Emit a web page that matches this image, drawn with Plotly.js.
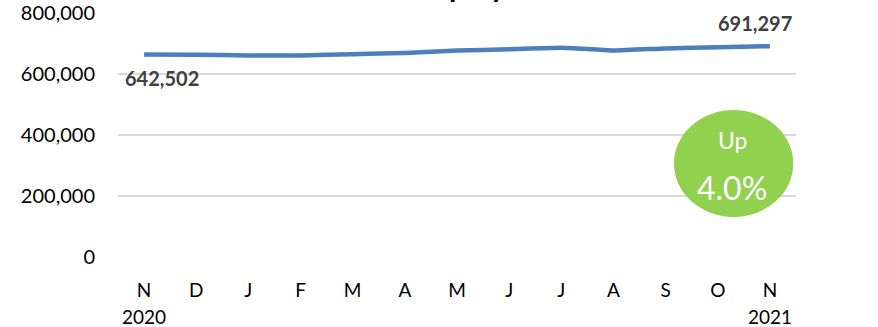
<!DOCTYPE html>
<html>
<head>
<meta charset="utf-8">
<script src="https://cdn.plot.ly/plotly-3.0.1.min.js"></script>
<style>html,body{margin:0;padding:0;background:#fff;}#chart{width:878px;height:327px;}</style>
</head>
<body>
<div id="chart"></div>
<script>
// Data
const periods = ['2020-11','2020-12','2021-01','2021-02','2021-03','2021-04','2021-05','2021-06','2021-07','2021-08','2021-09','2021-10','2021-11'];
const monthLabels = ['N','D','J','F','M','A','M','J','J','A','S','O','N'];
const employment = [664000, 663000, 661000, 661000, 665000, 669000, 677000, 681000, 686000, 677000, 684000, 688000, 691297];
const startLabel = '642,502';
const endLabel = '691,297';
const yearLabels = ['2020', '2021'];
const changeLabel = 'Up';
const changeValue = '4.0%';
const yTicks = [0, 200000, 400000, 600000, 800000];
const titleText = 'Nonfarm Employment';

const FONT = 'Lato, "Open Sans", sans-serif';

const trace = {
  type: 'scatter', mode: 'lines',
  x: periods, y: employment,
  line: {color: '#4e7fbd', width: 4.5, shape: 'spline', smoothing: 0.5},
  hoverinfo: 'skip'
};

const layout = {
  width: 878, height: 327,
  margin: {l: 118, r: 82, t: 13, b: 70},
  paper_bgcolor: '#fff', plot_bgcolor: '#fff',
  showlegend: false,
  font: {family: FONT, color: '#000'},
  xaxis: {
    type: 'category', range: [-0.5, periods.length - 0.5],
    tickvals: periods, ticktext: monthLabels,
    showgrid: false, zeroline: false, showline: false, ticks: '',
    tickfont: {family: FONT, size: 19, color: '#000'},
    ticklabelstandoff: 20
  },
  yaxis: {
    range: [0, 800000], tickvals: yTicks, tickformat: ',',
    showgrid: true, gridcolor: '#d9d9d9', gridwidth: 1.5,
    zeroline: false, showline: false, ticks: '',
    tickfont: {family: FONT, size: 20, color: '#000'},
    ticklabelstandoff: 22
  },
  shapes: [{
    type: 'circle', xref: 'paper', yref: 'paper',
    x0: 0.820, x1: 0.996, y0: 0.164, y1: 0.602,
    fillcolor: '#92d050', line: {width: 0}, layer: 'above'
  }],
  annotations: [
    {text: '<b>' + titleText + '</b>', xref: 'paper', yref: 'paper', x: 0.457, y: 1.031,
     xanchor: 'center', yanchor: 'bottom', showarrow: false,
     font: {family: FONT, size: 30, color: '#000'}},
    {text: '<b>' + startLabel + '</b>', xref: 'x', yref: 'y', x: periods[0], y: employment[0],
     xanchor: 'center', xshift: 18, yshift: -24, showarrow: false, font: {family: FONT, size: 20, color: '#404040'}},
    {text: '<b>' + endLabel + '</b>', xref: 'x', yref: 'y', x: periods[periods.length - 1], y: employment[employment.length - 1],
     xanchor: 'center', xshift: -15, yshift: 23, showarrow: false, font: {family: FONT, size: 20, color: '#404040'}},
    {text: yearLabels[0], xref: 'x', yref: 'paper', x: periods[0], y: -0.245,
     xanchor: 'center', yanchor: 'middle', showarrow: false, font: {family: FONT, size: 19, color: '#000'}},
    {text: yearLabels[1], xref: 'x', yref: 'paper', x: periods[periods.length - 1], y: -0.245,
     xanchor: 'center', yanchor: 'middle', showarrow: false, font: {family: FONT, size: 19, color: '#000'}},
    {text: changeLabel, xref: 'paper', yref: 'paper', x: 0.906, y: 0.48,
     xanchor: 'center', yanchor: 'middle', showarrow: false, font: {family: FONT, size: 23, color: '#fff'}},
    {text: changeValue, xref: 'paper', yref: 'paper', x: 0.906, y: 0.283,
     xanchor: 'center', yanchor: 'middle', showarrow: false, font: {family: FONT, size: 32, color: '#fff'}}
  ]
};

Plotly.newPlot('chart', [trace], layout, {displayModeBar: false, staticPlot: true});
</script>
</body>
</html>
